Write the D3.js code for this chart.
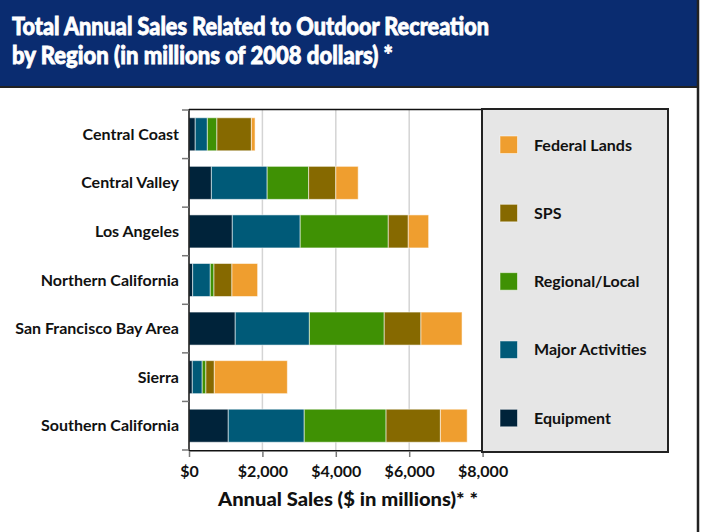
<!DOCTYPE html>
<html><head><meta charset="utf-8">
<script src="https://cdn.jsdelivr.net/npm/d3@7"></script>
<style>
body{margin:0;background:#fff;}
svg{display:block;font-family:Lato,"Open Sans",sans-serif;}
</style></head><body>
<svg id="c" width="703" height="532"></svg>
<script>
const categories = ["Central Coast","Central Valley","Los Angeles","Northern California","San Francisco Bay Area","Sierra","Southern California"];
const seriesNames = ["Equipment","Major Activities","Regional/Local","SPS","Federal Lands"];
const equipment = [170, 610, 1180, 100, 1260, 90, 1070];
const majorActivities = [330, 1520, 1850, 480, 2020, 270, 2070];
const regionalLocal = [260, 1130, 2400, 100, 2040, 100, 2230];
const sps = [940, 740, 545, 490, 1000, 230, 1480];
const federalLands = [100, 610, 555, 700, 1120, 1990, 730];
const xTicks = [0, 2000, 4000, 6000, 8000];
const colors = ["#00233a","#005a78","#3f9104","#866900","#ef9e2f"];

const svg = d3.select("#c");
// Banner
svg.append("rect").attr("x",0).attr("y",0).attr("width",697).attr("height",87).attr("fill","#0a2c70");
svg.append("line").attr("x1",0).attr("x2",699).attr("y1",87).attr("y2",87).attr("stroke","#222").attr("stroke-width",2);
svg.append("line").attr("x1",698).attr("x2",698).attr("y1",0).attr("y2",532).attr("stroke","#222").attr("stroke-width",2.5);
const tAttrs = s=>s.attr("fill","#fff").attr("stroke","#fff").attr("stroke-width",0.8).attr("font-weight",900).attr("font-size",24);
svg.append("text").attr("x",12).attr("y",35).call(tAttrs)
  .attr("textLength",477).attr("lengthAdjust","spacingAndGlyphs").text("Total Annual Sales Related to Outdoor Recreation");
svg.append("text").attr("x",12).attr("y",64).call(tAttrs)
  .attr("textLength",381).attr("lengthAdjust","spacingAndGlyphs").text("by Region (in millions of 2008 dollars) *");

const x = d3.scaleLinear().domain([0,8000]).range([189,482.6]);
const y = d3.scaleBand().domain(categories).range([110,450]).paddingInner(0.32).paddingOuter(0.16);

const rows = categories.map((c,i)=>({cat:c, Equipment:equipment[i], "Major Activities":majorActivities[i], "Regional/Local":regionalLocal[i], SPS:sps[i], "Federal Lands":federalLands[i]}));
const stacked = d3.stack().keys(seriesNames)(rows);

// gridlines
svg.append("g").selectAll("line").data(xTicks.filter(t=>t>0&&t<8000)).join("line")
  .attr("x1",d=>x(d)).attr("x2",d=>x(d)).attr("y1",110).attr("y2",451)
  .attr("stroke","#d4d4d4").attr("stroke-width",1.5);

// bars
svg.append("g").selectAll("g").data(stacked).join("g").attr("fill",(d,i)=>colors[i])
  .selectAll("rect").data(d=>d).join("rect")
  .attr("x",d=>x(d[0])).attr("width",d=>x(d[1])-x(d[0]))
  .attr("y",d=>y(d.data.cat)).attr("height",y.bandwidth())
  .attr("stroke","#ffffff").attr("stroke-opacity",0.55).attr("stroke-width",1);

// frame lines
svg.append("line").attr("x1",189).attr("x2",483).attr("y1",109.5).attr("y2",109.5).attr("stroke","#111").attr("stroke-width",1.5);
svg.append("line").attr("x1",189).attr("x2",189).attr("y1",109).attr("y2",451).attr("stroke","#111").attr("stroke-width",1.5);
svg.append("line").attr("x1",189).attr("x2",483).attr("y1",450.8).attr("y2",450.8).attr("stroke","#111").attr("stroke-width",1.5);

// left ticks at band boundaries
const bounds = d3.range(categories.length+1).map(i=>y.range()[0]+i*y.step());
svg.append("g").selectAll("line").data(bounds).join("line")
  .attr("x1",182).attr("x2",189).attr("y1",d=>d).attr("y2",d=>d).attr("stroke","#777").attr("stroke-width",1.5);

// category labels
svg.append("g").selectAll("text").data(categories).join("text")
  .attr("x",179).attr("y",d=>y(d)+y.bandwidth()/2+5.5).attr("text-anchor","end")
  .attr("font-weight","bold").attr("font-size",16).attr("fill","#111").text(d=>d);

// bottom axis
const xAxis = d3.axisBottom(x).tickValues(xTicks).tickSize(6).tickPadding(9).tickFormat(d=>"$"+d3.format(",")(d));
const gx = svg.append("g").attr("transform","translate(0,451)").call(xAxis);
gx.select(".domain").remove();
gx.selectAll(".tick line").attr("stroke","#777").attr("stroke-width",1.5);
gx.selectAll(".tick text").attr("font-family","Lato, sans-serif").attr("font-weight","bold").attr("font-size",16).attr("fill","#111");

svg.append("text").attr("x",218).attr("y",506).attr("font-weight",900).attr("font-size",18).attr("fill","#111")
  .attr("textLength",260).attr("lengthAdjust","spacingAndGlyphs")
  .text("Annual Sales ($ in millions)* *");

// legend
const lg = svg.append("g");
lg.append("rect").attr("x",482).attr("y",109).attr("width",186).attr("height",343).attr("fill","#e6e6e6").attr("stroke","#222").attr("stroke-width",2);
const legendOrder = seriesNames.slice().reverse();
const ly = d3.scalePoint().domain(legendOrder).range([136,409.3]);
const li = lg.selectAll("g.it").data(legendOrder).join("g").attr("class","it");
li.append("rect").attr("x",500).attr("y",d=>ly(d)).attr("width",17.5).attr("height",17.5)
  .attr("fill",d=>colors[seriesNames.indexOf(d)]).attr("stroke","#fff").attr("stroke-opacity",0.5).attr("stroke-width",1);
li.append("text").attr("x",534).attr("y",d=>ly(d)+14.5).attr("font-weight","bold").attr("font-size",16).attr("fill","#111").text(d=>d);
</script>
</body></html>
